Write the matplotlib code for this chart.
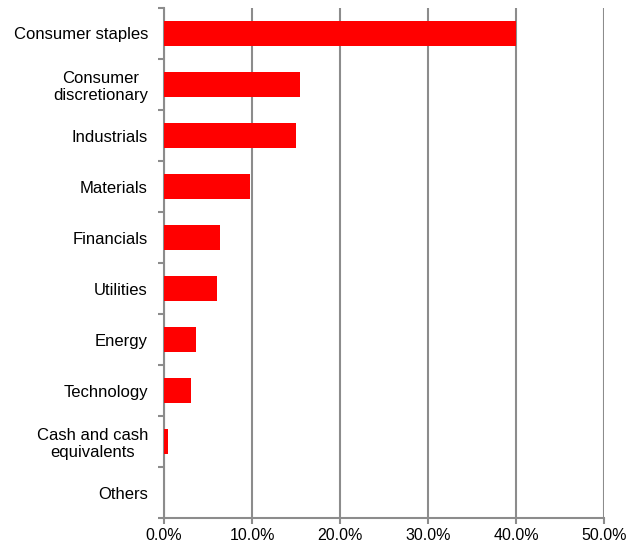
import numpy as np
import matplotlib
matplotlib.use('Agg')
import matplotlib.pyplot as plt
from matplotlib.ticker import FuncFormatter, FixedLocator

plt.rcParams['font.family'] = ['Liberation Sans', 'DejaVu Sans']

categories = ['Consumer staples', 'Consumer\ndiscretionary', 'Industrials', 'Materials',
              'Financials', 'Utilities', 'Energy', 'Technology',
              'Cash and cash\nequivalents', 'Others']
weights = [40.0, 15.4, 15.0, 9.8, 6.4, 6.0, 3.6, 3.1, 0.45, 0.0]

grey = '#8c8c8c'

fig = plt.figure(figsize=(6.38, 5.5), dpi=100)
ax = fig.add_axes([0.257, 0.058, 0.69, 0.9275])

y = np.arange(len(categories))
ax.barh(y, weights, height=0.5, color='#ff0000', zorder=3)

ax.set_xlim(0, 50)
ax.set_ylim(len(categories) - 0.5, -0.5)
ax.set_xticks(np.arange(0, 51, 10))
ax.xaxis.set_major_formatter(FuncFormatter(lambda v, p: '%.1f%%' % v))
ax.grid(axis='x', color=grey, linewidth=1.5, zorder=0)

ax.set_yticks(y)
ax.set_yticklabels(categories, multialignment='center')
ax.yaxis.set_minor_locator(FixedLocator(np.arange(-0.5, len(categories), 1)))
ax.tick_params(axis='y', which='major', length=0, pad=11.5, labelsize=12)
ax.tick_params(axis='y', which='minor', length=4, width=1.5, color=grey)
ax.tick_params(axis='x', length=4, width=1.5, color=grey, labelsize=11.5, pad=3)

for s in ['top', 'right']:
    ax.spines[s].set_visible(False)
for s in ['left', 'bottom']:
    ax.spines[s].set_color(grey)
    ax.spines[s].set_linewidth(1.5)

fig.savefig('out.png', dpi=100)
